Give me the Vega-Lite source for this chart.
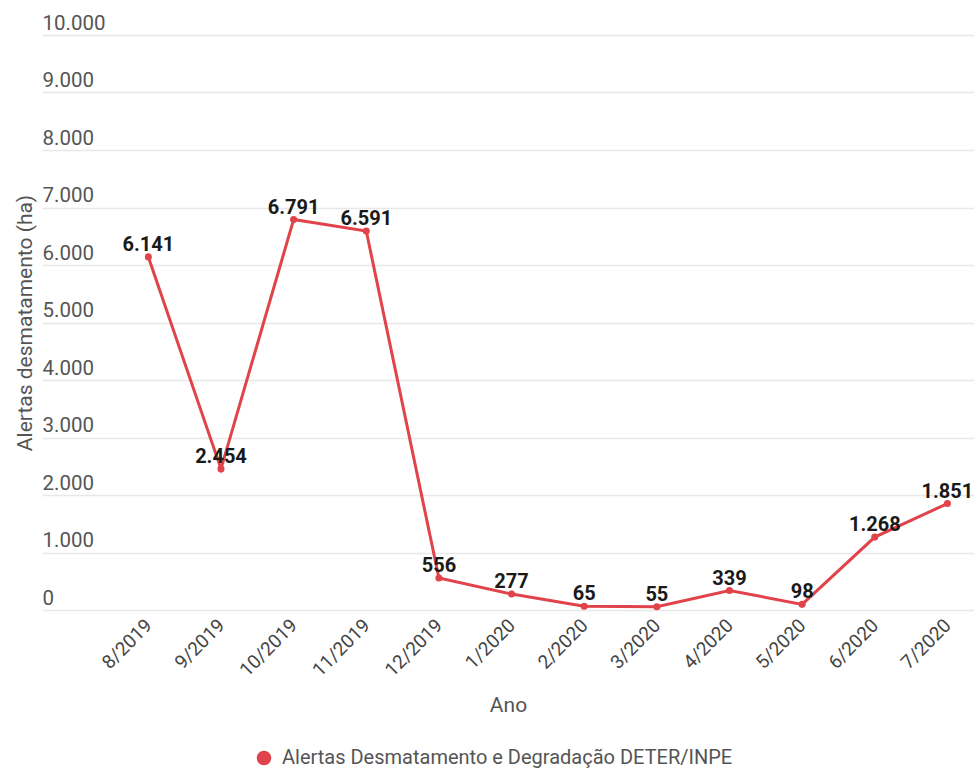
{
  "$schema": "https://vega.github.io/schema/vega-lite/v6.json",
  "autosize": {"type": "none"},
  "padding": {"left": 42, "top": 35, "right": 0, "bottom": 159},
  "width": 932,
  "height": 575,
  "background": "white",
  "config": {
    "view": {"stroke": null},
    "font": "Roboto",
    "text": {"font": "Roboto"}
  },
  "data": {
    "values": [
      {"mes": "8/2019", "valor": 6141, "rotulo": "6.141", "serie": "Alertas Desmatamento e Degradação DETER/INPE"},
      {"mes": "9/2019", "valor": 2454, "rotulo": "2.454", "serie": "Alertas Desmatamento e Degradação DETER/INPE"},
      {"mes": "10/2019", "valor": 6791, "rotulo": "6.791", "serie": "Alertas Desmatamento e Degradação DETER/INPE"},
      {"mes": "11/2019", "valor": 6591, "rotulo": "6.591", "serie": "Alertas Desmatamento e Degradação DETER/INPE"},
      {"mes": "12/2019", "valor": 556, "rotulo": "556", "serie": "Alertas Desmatamento e Degradação DETER/INPE"},
      {"mes": "1/2020", "valor": 277, "rotulo": "277", "serie": "Alertas Desmatamento e Degradação DETER/INPE"},
      {"mes": "2/2020", "valor": 65, "rotulo": "65", "serie": "Alertas Desmatamento e Degradação DETER/INPE"},
      {"mes": "3/2020", "valor": 55, "rotulo": "55", "serie": "Alertas Desmatamento e Degradação DETER/INPE"},
      {"mes": "4/2020", "valor": 339, "rotulo": "339", "serie": "Alertas Desmatamento e Degradação DETER/INPE"},
      {"mes": "5/2020", "valor": 98, "rotulo": "98", "serie": "Alertas Desmatamento e Degradação DETER/INPE"},
      {"mes": "6/2020", "valor": 1268, "rotulo": "1.268", "serie": "Alertas Desmatamento e Degradação DETER/INPE"},
      {"mes": "7/2020", "valor": 1851, "rotulo": "1.851", "serie": "Alertas Desmatamento e Degradação DETER/INPE"}
    ]
  },
  "encoding": {
    "x": {
      "field": "mes",
      "type": "ordinal",
      "sort": null,
      "scale": {"type": "point", "padding": 0.915, "align": 0.8},
      "axis": {
        "title": "Ano",
        "titleFont": "Roboto",
        "titleFontSize": 21,
        "titleFontWeight": "normal",
        "titleColor": "#555555",
        "titlePadding": 15,
        "labelAngle": -45,
        "labelAlign": "right",
        "labelBaseline": "middle",
        "labelFont": "Roboto",
        "labelFontSize": 19,
        "labelColor": "#444444",
        "labelPadding": 12,
        "ticks": false,
        "domain": false,
        "grid": false
      }
    },
    "y": {
      "field": "valor",
      "type": "quantitative",
      "scale": {"domain": [0, 10000], "nice": false},
      "axis": {
        "title": "Alertas desmatamento (ha)",
        "titleFont": "Roboto",
        "titleFontSize": 21,
        "titleFontWeight": "normal",
        "titleColor": "#555555",
        "titleX": -7,
        "values": [0, 1000, 2000, 3000, 4000, 5000, 6000, 7000, 8000, 9000, 10000],
        "labelExpr": "replace(format(datum.value, ',d'), ',', '.')",
        "labelAlign": "left",
        "labelBaseline": "alphabetic",
        "labelOffset": -6,
        "labelPadding": 0,
        "labelFont": "Roboto",
        "labelFontSize": 20.5,
        "labelColor": "#555555",
        "ticks": false,
        "domain": false,
        "grid": true,
        "gridColor": "#e8e8e8",
        "gridWidth": 1.5
      }
    }
  },
  "layer": [
    {
      "mark": {"type": "line", "strokeWidth": 3, "color": "#e0434a"},
      "encoding": {
        "color": {
          "field": "serie",
          "type": "nominal",
          "scale": {"range": ["#e0434a"]},
          "legend": {
            "title": null,
            "orient": "none",
            "legendX": 212,
            "legendY": 713,
            "symbolType": "circle",
            "symbolFillColor": "#e0434a",
            "symbolStrokeColor": "#e0434a",
            "symbolSize": 170,
            "labelFont": "Roboto",
            "labelFontSize": 20,
            "labelColor": "#555555",
            "labelOffset": 8,
            "labelLimit": 700
          }
        }
      }
    },
    {
      "mark": {"type": "point", "filled": true, "size": 50, "opacity": 1, "color": "#e0434a"},
      "encoding": {}
    },
    {
      "mark": {"type": "text", "fontSize": 20, "fontWeight": "bold", "color": "#1a1a1a", "baseline": "alphabetic", "dy": -6, "font": "Roboto"},
      "encoding": {"text": {"field": "rotulo"}}
    }
  ]
}
